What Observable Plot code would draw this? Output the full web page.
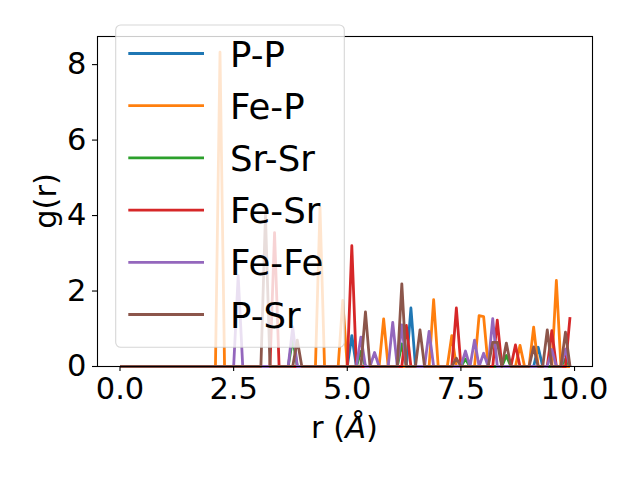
<!DOCTYPE html>
<html>
<head>
<meta charset="utf-8">
<script src="https://cdn.jsdelivr.net/npm/d3@7"></script>
<script src="https://cdn.jsdelivr.net/npm/@observablehq/plot@0.6"></script>
<style>
  html, body { margin: 0; padding: 0; background: white; }
  #chart svg { display: block; }
</style>
</head>
<body>
<div id="chart"></div>
<script>
// r grid (Å)
const r = [
  0.0,0.1,0.2,0.3,0.4,0.5,0.6,0.7,0.8,0.9,
  1.0,1.1,1.2,1.3,1.4,1.5,1.6,1.7,1.8,1.9,
  2.0,2.1,2.2,2.3,2.4,2.5,2.6,2.7,2.8,2.9,
  3.0,3.1,3.2,3.3,3.4,3.5,3.6,3.7,3.8,3.9,
  4.0,4.1,4.2,4.3,4.4,4.5,4.6,4.7,4.8,4.9,
  5.0,5.1,5.2,5.3,5.4,5.5,5.6,5.7,5.8,5.9,
  6.0,6.1,6.2,6.3,6.4,6.5,6.6,6.7,6.8,6.9,
  7.0,7.1,7.2,7.3,7.4,7.5,7.6,7.7,7.8,7.9,
  8.0,8.1,8.2,8.3,8.4,8.5,8.6,8.7,8.8,8.9,
  9.0,9.1,9.2,9.3,9.4,9.5,9.6,9.7,9.8,9.9
];

const gPP = [
  0,0,0,0,0,0,0,0,0,0,
  0,0,0,0,0,0,0,0,0,0,
  0,0,0,0,0,0,0,0,0,0,
  0,0,0,0,0,0,0,0,0,0,
  0,0,0,0,0,0,0,0,0,0,
  0,0.82,0,0,0,0,0,0,0,0,
  0,0,0,0,1.55,0,0,0,0,0,
  0,0,0,0,0,0,0,0,0,0,
  0,0,0,0,0,0,0,0,0,0,
  0,0,0.51,0,0,0,0,0,0,0
];
const gFeP = [
  0,0,0,0,0,0,0,0,0,0,
  0,0,0,0,0,0,0,0,0,0,
  0,0,8.33,0,0,0,0,0,0,0,
  0,0,0,0,0,0,0,0,0,0,
  0,0,0,0,4.22,0,0,0,0,1.75,
  0,0,0,0,0,0,0,0,1.26,0,
  0,0,0,0,0,0,0,0,0,1.77,
  0,0,0,0.82,0,0,0,0,0,1.35,
  1.32,0,0,0,0,0,0,0,0.56,0,
  0,1.04,0,0,0,0,2.28,0,0,0
];
const gSrSr = [
  0,0,0,0,0,0,0,0,0,0,
  0,0,0,0,0,0,0,0,0,0,
  0,0,0,0,0,0,0,0,0,0,
  0,0,0,0,0,0,0,0,0.75,0,
  0,0,0,0,0,0,0,0,0,0,
  0,0,0,0.4,0,0,0,0,0,0,
  0,0,0.6,0,0,0,0,0,0,0,
  0,0,0,0,0,0,0.2,0,0,0,
  0,0,0,0,0,0.29,0,0,0,0,
  0,0,0,0,0,0,0,0,0.2,0
];
const gFeSr = [
  0,0,0,0,0,0,0,0,0,0,
  0,0,0,0,0,0,0,0,0,0,
  0,0,0,0,0,0,0,0,0,0,
  0,0,0,0,3.55,0,0,0,0,0,
  0,0,0,0,0,0,0,0,0,0,
  0,3.2,0,0,0,0,0,0,0,0,
  0,0,0,1.09,0,0,0,0,0,0,
  0,0,0,0,1.55,0,0,0,0,0,
  0,0,0,1.23,0,0,0,0.57,0,0,
  0,0,0,0,0,0.95,0,0,0,1.31
];
const gFeFe = [
  0,0,0,0,0,0,0,0,0,0,
  0,0,0,0,0,0,0,0,0,0,
  0,0,0,0,0,0,2.41,0,0,0,
  0,0,0,0,0,0,0,0,1.05,0,
  0,0,0,0,0,0,0,0,0,0,
  0,0,0,0.78,0,0,0.37,0,0,0,
  1.17,0,1.1,0,0,0,0,0,0.93,0,
  0,0,0,0,0,0,0.41,0,0.7,0,
  0.35,0,1.27,0,0,0,0,0,0,0,
  0,0,0,0,0,0.45,0,0,0.46,0
];
const gPSr = [
  0,0,0,0,0,0,0,0,0,0,
  0,0,0,0,0,0,0,0,0,0,
  0,0,0,0,0,0,0,0,0,0,
  0,0,4.03,0,0,0,0,0,0,0.7,
  0,0,0,0,0,0,0,0,0,0,
  0,0,0,0,1.45,0,0,0,0,0,
  0,0,2.19,0,0,0,0.97,0,0,0,
  0,0,0,0,0.22,0,0,0,0,0,
  0,0,0.64,0.64,0,0.62,0,0,0,0,
  0,0.52,0,0,0.97,0,0,0,0.91,0
];

const seriesNames = ["P-P", "Fe-P", "Sr-Sr", "Fe-Sr", "Fe-Fe", "P-Sr"];
const seriesValues = [gPP, gFeP, gSrSr, gFeSr, gFeFe, gPSr];
const seriesColors = ["#1f77b4", "#ff7f0e", "#2ca02c", "#d62728", "#9467bd", "#8c564b"];

const xTicks = [0, 2.5, 5, 7.5, 10];
const yTicks = [0, 2, 4, 6, 8];

const tables = seriesValues.map((vals, k) =>
  r.map((rv, i) => ({ r: rv, g: vals[i], series: seriesNames[k] }))
);

const W = 640, H = 480;
const mL = 97, mR = 48, mT = 36, mB = 114;
const FONT = "'DejaVu Sans', sans-serif";
const FS = 30.5;

const chart = Plot.plot({
  width: W, height: H,
  marginLeft: mL, marginRight: mR, marginTop: mT, marginBottom: mB,
  style: { fontFamily: FONT, fontSize: FS + "px", background: "white", color: "black", overflow: "visible" },
  x: { domain: [-0.495, 10.395], label: null },
  y: { domain: [0, 8.745], label: null },
  color: { domain: seriesNames, range: seriesColors },
  marks: [
    ...tables.map((t, k) => Plot.line(t, {
      x: "r", y: "g", stroke: "series",
      strokeWidth: 2.8, strokeLinejoin: "round", strokeLinecap: "butt"
    })),
    Plot.frame({ stroke: "black", strokeWidth: 1.1 }),
    Plot.axisX({ ticks: xTicks, tickFormat: d3.format(".1f"), tickSize: 5, tickPadding: 6, fontSize: FS, label: null, strokeWidth: 1.1 }),
    Plot.axisY({ ticks: yTicks, tickFormat: d3.format("d"), tickSize: 5, tickPadding: 6, fontSize: FS, label: null, strokeWidth: 1.1 })
  ]
});

document.getElementById("chart").appendChild(chart);

const svg = d3.select(chart);

// axis labels
const xl = svg.append("text")
  .attr("x", (mL + (W - mR)) / 2).attr("y", 438)
  .attr("text-anchor", "middle")
  .attr("font-family", FONT).attr("font-size", FS).attr("fill", "black");
xl.append("tspan").text("r (");
xl.append("tspan").attr("font-style", "italic").text("Å");
xl.append("tspan").text(")");

svg.append("text")
  .attr("transform", `translate(56, ${(mT + (H - mB)) / 2}) rotate(-90)`)
  .attr("text-anchor", "middle")
  .attr("font-family", FONT).attr("font-size", FS).attr("fill", "black")
  .text("g(r)");

// legend
const LFS = 35.5;
const lg = svg.append("g");
lg.append("rect")
  .attr("x", 115.7).attr("y", 25).attr("width", 228.6).attr("height", 322.3)
  .attr("rx", 5).attr("ry", 5)
  .attr("fill", "white").attr("fill-opacity", 0.8)
  .attr("stroke", "#cccccc").attr("stroke-opacity", 0.8).attr("stroke-width", 1.1);
seriesNames.forEach((name, k) => {
  const yy = 53.5 + k * 52.2;
  lg.append("line")
    .attr("x1", 128.3).attr("x2", 204).attr("y1", yy).attr("y2", yy)
    .attr("stroke", seriesColors[k]).attr("stroke-width", 2.8);
  lg.append("text")
    .attr("x", 230).attr("y", yy + 13)
    .attr("text-anchor", "start")
    .attr("font-family", FONT).attr("font-size", LFS).attr("fill", "black")
    .text(name);
});
</script>
</body>
</html>
